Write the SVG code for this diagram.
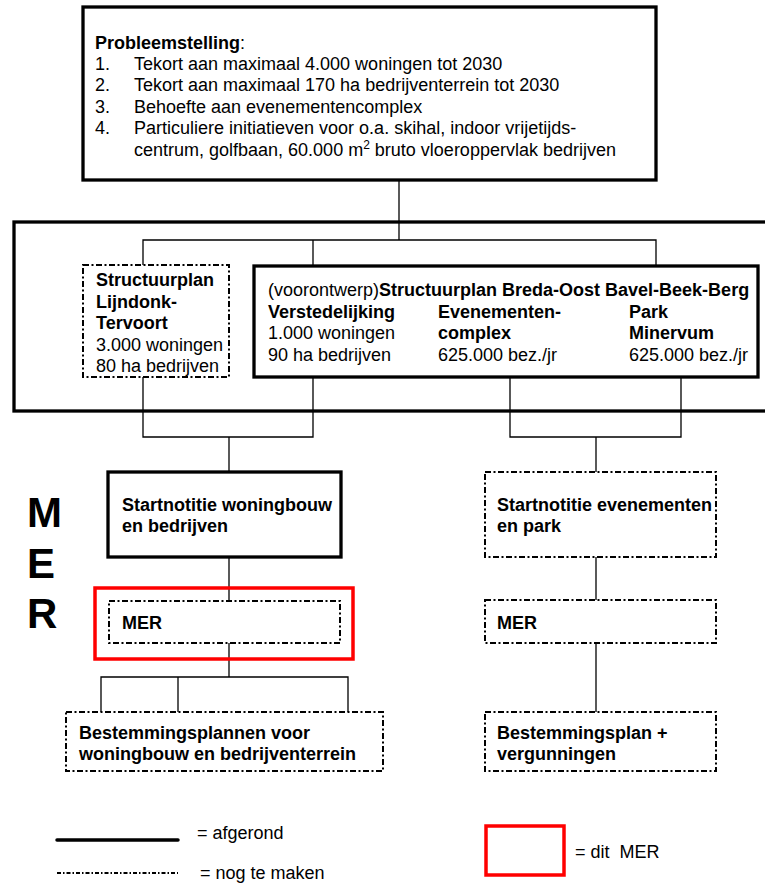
<svg xmlns="http://www.w3.org/2000/svg" width="765" height="883" viewBox="0 0 765 883">
<style>
text{font-family:"Liberation Sans",Arial,sans-serif;font-size:18px;fill:#000}
.b{font-weight:bold}
.solid{fill:#fff;stroke:#000;stroke-width:3.3}
.dash{fill:#fff;stroke:#000;stroke-width:2;stroke-dasharray:6 2.5 2 2.5}
.red{fill:none;stroke:#f00;stroke-width:3.5}
.con{fill:none;stroke:#000;stroke-width:1.3}
.big{font-size:42px;font-weight:bold}
</style>
<rect x="0" y="0" width="765" height="883" fill="#fff"/>
<g id="frame">
<rect class="solid" x="14" y="222" width="800" height="189" fill="none"/>
</g>
<g id="connectors">
<polyline class="con" points="399,180 399,240"/>
<polyline class="con" points="143,265 143,240 656,240 656,266"/>
<line class="con" x1="313" y1="240" x2="313" y2="266"/>
<polyline class="con" points="143,377 143,437 313,437 313,365"/>
<line class="con" x1="229" y1="437" x2="229" y2="472"/>
<polyline class="con" points="510,356 510,437 681,437 681,356"/>
<line class="con" x1="596" y1="437" x2="596" y2="472"/>
<line class="con" x1="229" y1="557" x2="229" y2="601"/>
<line class="con" x1="229" y1="643" x2="229" y2="677"/>
<polyline class="con" points="101,712 101,677 348,677 348,712"/>
<line class="con" x1="178" y1="677" x2="178" y2="712"/>
<line class="con" x1="596" y1="557" x2="596" y2="600"/>
<line class="con" x1="596" y1="643" x2="596" y2="712"/>
</g>
<g id="probleemstelling">
<rect class="solid" x="83" y="7" width="573" height="173"/>
<text x="95" y="49"><tspan class="b">Probleemstelling</tspan>:</text>
<text x="95" y="70">1.</text><text x="134" y="70">Tekort aan maximaal 4.000 woningen tot 2030</text>
<text x="95" y="91">2.</text><text x="134" y="91">Tekort aan maximaal 170 ha bedrijventerrein tot 2030</text>
<text x="95" y="113">3.</text><text x="134" y="113">Behoefte aan evenementencomplex</text>
<text x="95" y="134">4.</text><text x="134" y="134">Particuliere initiatieven voor o.a. skihal, indoor vrijetijds-</text>
<text x="134" y="156">centrum, golfbaan, 60.000 m<tspan font-size="12" dy="-7">2</tspan><tspan dy="7"> bruto vloeroppervlak bedrijven</tspan></text>
</g>
<g id="lijndonk">
<rect class="dash" x="83" y="265" width="146" height="112"/>
<text class="b" x="96" y="286">Structuurplan</text>
<text class="b" x="96" y="308">Lijndonk-</text>
<text class="b" x="96" y="329">Tervoort</text>
<text x="96" y="351">3.000 woningen</text>
<text x="96" y="372">80 ha bedrijven</text>
</g>
<g id="breda-oost">
<rect class="solid" x="254" y="266" width="504" height="111"/>
<text x="268" y="296">(voorontwerp)<tspan class="b">Structuurplan Breda-Oost Bavel-Beek-Berg</tspan></text>
<text class="b" x="268" y="318">Verstedelijking</text>
<text x="268" y="339">1.000 woningen</text>
<text x="268" y="361">90 ha bedrijven</text>
<text class="b" x="438" y="318">Evenementen-</text>
<text class="b" x="438" y="339">complex</text>
<text x="438" y="361">625.000 bez./jr</text>
<text class="b" x="629" y="318">Park</text>
<text class="b" x="629" y="339">Minervum</text>
<text x="629" y="361">625.000 bez./jr</text>
</g>
<g id="mer-label">
<text class="big" x="27" y="527">M</text>
<text class="big" x="27" y="578">E</text>
<text class="big" x="27" y="628">R</text>
</g>
<g id="startnotitie-woningbouw">
<rect class="solid" x="108" y="472" width="233" height="85"/>
<text class="b" x="122" y="511">Startnotitie woningbouw</text>
<text class="b" x="122" y="532">en bedrijven</text>
</g>
<g id="mer-woningbouw">
<rect class="red" x="95" y="588" width="258" height="71"/>
<rect class="dash" x="109" y="601" width="231" height="42"/>
<text class="b" x="122" y="629">MER</text>
</g>
<g id="bestemmingsplannen">
<rect class="dash" x="66" y="712" width="317" height="59"/>
<text class="b" x="79" y="739">Bestemmingsplannen voor</text>
<text class="b" x="79" y="760">woningbouw en bedrijventerrein</text>
</g>
<g id="startnotitie-evenementen">
<rect class="dash" x="485" y="472" width="231" height="85"/>
<text class="b" x="497" y="511">Startnotitie evenementen</text>
<text class="b" x="497" y="532">en park</text>
</g>
<g id="mer-evenementen">
<rect class="dash" x="485" y="600" width="231" height="43"/>
<text class="b" x="497" y="629">MER</text>
</g>
<g id="bestemmingsplan">
<rect class="dash" x="485" y="712" width="231" height="59"/>
<text class="b" x="497" y="739">Bestemmingsplan +</text>
<text class="b" x="497" y="760">vergunningen</text>
</g>
<g id="legend">
<line x1="57" y1="840" x2="178" y2="840" stroke="#000" stroke-width="3.5" stroke-linecap="round"/>
<text x="197" y="839">= afgerond</text>
<line x1="57" y1="873" x2="178" y2="873" stroke="#000" stroke-width="2" stroke-dasharray="4 2 1.5 2"/>
<text x="200" y="879">= nog te maken</text>
<rect class="red" x="486" y="826" width="78" height="49"/>
<text x="575" y="858" xml:space="preserve">= dit  MER</text>
</g>
</svg>
